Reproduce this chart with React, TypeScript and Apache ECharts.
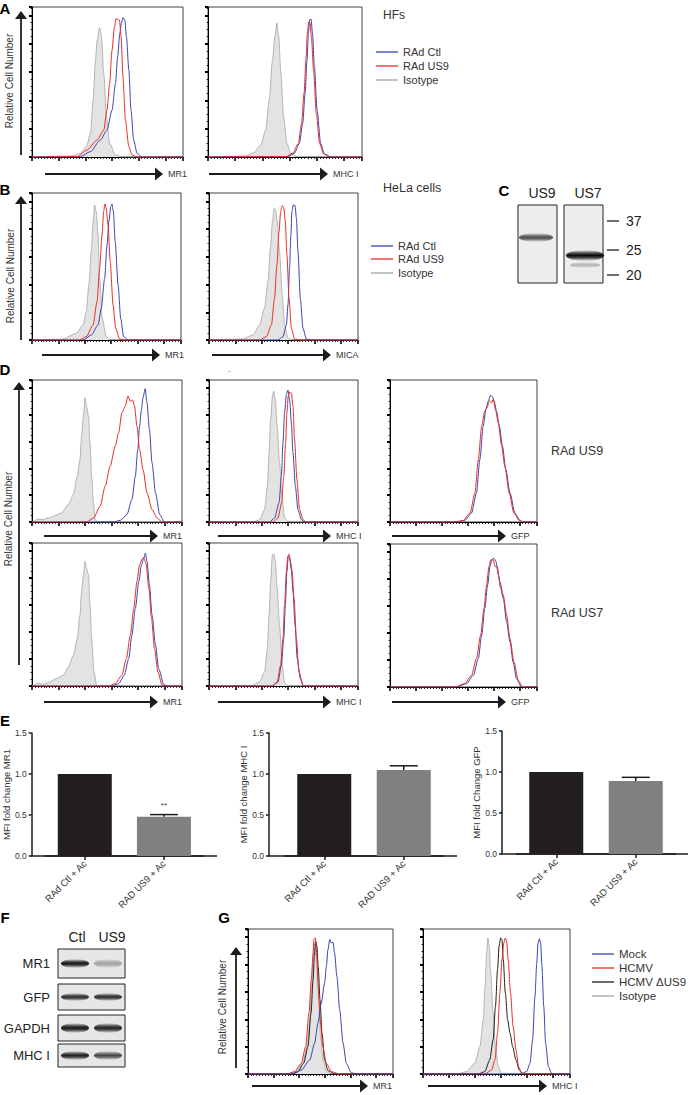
import { useEffect, useRef } from "react";
import * as echarts from "echarts";

// ---------------- DATA (x: log10 fluorescence decades, y: % of max cell count) ----------------
// A – HFs
const aMr1Iso = [[1.5,0.7],[1.81,2.6],[2.04,7.3],[2.19,16.7],[2.29,40.2],[2.38,68.5],[2.44,82.4],[2.53,91.5],[2.6,86.1],[2.69,59.1],[2.79,28.5],[2.91,9.6],[3.13,1.4],[3.38,0]];
const aMr1Ctl = [[1.81,0.2],[2.19,3.8],[2.56,12],[2.81,19],[3.0,33.2],[3.13,52],[3.21,70.8],[3.29,87.3],[3.35,94.4],[3.41,98.6],[3.48,96.7],[3.54,84.9],[3.63,61.4],[3.71,33.2],[3.81,12],[3.94,2.6],[4.13,0]];
const aMr1Us9 = [[1.69,0.2],[2.06,4.9],[2.44,12],[2.69,19],[2.81,33.2],[2.91,52],[3.0,75.5],[3.09,92],[3.15,97.9],[3.21,97.2],[3.28,96.7],[3.34,84.9],[3.41,56.7],[3.5,26.1],[3.63,7.3],[3.75,1.4],[3.94,0]];
const aMhcIso = [[1.38,0.7],[1.69,3.1],[1.94,8.5],[2.12,19],[2.25,40.2],[2.37,68.5],[2.46,84.9],[2.53,94.8],[2.6,84.9],[2.68,59.1],[2.78,28.5],[2.9,9.6],[3.05,2.1],[3.3,0.2]];
const aMhcCtl = [[2.93,0.2],[3.17,2.6],[3.36,9.6],[3.48,23.8],[3.57,45],[3.64,68.5],[3.69,87.3],[3.74,97.2],[3.79,97.2],[3.84,87.3],[3.91,63.8],[4.01,33.2],[4.14,9.6],[4.28,2.1],[4.53,0]];
const aMhcUs9 = [[2.86,0.2],[3.11,2.6],[3.32,9.6],[3.44,23.8],[3.53,45],[3.6,68.5],[3.65,87.3],[3.7,95.5],[3.75,94.8],[3.8,84.9],[3.88,61.4],[3.98,30.8],[4.1,9.6],[4.25,2.1],[4.47,0]];
// B – HeLa
const bMr1Iso = [[1.18,0.7],[1.68,4.8],[1.94,10.8],[2.06,20.4],[2.16,39.7],[2.25,63.7],[2.32,85.3],[2.38,97.4],[2.44,92.5],[2.51,75.7],[2.57,44.5],[2.67,15.6],[2.82,2.4],[3.01,0]];
const bMr1Us9 = [[1.81,0],[2.06,2.4],[2.32,10.8],[2.47,27.6],[2.57,51.7],[2.66,75.7],[2.72,92.5],[2.77,98.1],[2.82,94.9],[2.89,82.9],[2.97,56.5],[3.08,25.2],[3.18,8.4],[3.33,0.7],[3.52,0]];
const bMr1Ctl = [[1.94,0],[2.25,3.6],[2.51,10.8],[2.63,22.8],[2.76,44.5],[2.85,68.5],[2.92,85.3],[2.99,96.2],[3.04,98.1],[3.09,92.5],[3.16,70.9],[3.27,39.7],[3.37,15.6],[3.48,2.4],[3.65,0]];
const bMicaIso = [[1.29,0.7],[1.67,3.6],[1.92,10.8],[2.11,22.8],[2.24,42],[2.33,66.1],[2.41,85.3],[2.47,94.9],[2.53,93.7],[2.59,85.3],[2.68,63.7],[2.78,32.5],[2.87,10.8],[3.0,1.2],[3.19,0]];
const bMicaUs9 = [[1.92,0],[2.18,2.4],[2.37,10.8],[2.49,30],[2.58,54],[2.66,78],[2.72,92.5],[2.78,96.9],[2.84,95.4],[2.9,85.3],[2.96,61.3],[3.04,30],[3.13,8.4],[3.25,0.7],[3.44,0]];
const bMicaCtl = [[2.62,0],[2.81,2.4],[2.94,10.8],[3.0,25.2],[3.06,51.7],[3.11,75.7],[3.15,92.5],[3.2,97.4],[3.27,96.9],[3.32,87.7],[3.38,63.7],[3.47,30],[3.57,8.4],[3.7,0.7],[3.89,0]];
// D – RAd US9 row
const dUs9Mr1Iso = [[0.04,0.5],[0.23,2.2],[0.42,1.7],[0.61,3],[0.86,4.7],[1.11,6.7],[1.37,13],[1.56,20.5],[1.71,34.2],[1.81,46.6],[1.87,64.1],[1.94,79.1],[2.0,92.8],[2.06,86.5],[2.13,79.1],[2.19,59.1],[2.25,34.2],[2.32,14.2],[2.38,1.7],[2.51,0]];
const dUs9Mr1Us9 = [[2.06,0],[2.32,3],[2.57,11.7],[2.76,26.7],[2.95,41.6],[3.14,56.6],[3.27,66.6],[3.39,81.5],[3.52,86.5],[3.62,94],[3.71,90.2],[3.8,91],[3.87,86.5],[3.96,71.6],[4.06,54.1],[4.19,39.1],[4.34,21.7],[4.53,9.2],[4.72,3],[4.91,0]];
const dUs9Mr1Ctl = [[3.08,0],[3.33,1.2],[3.58,5.5],[3.77,16.7],[3.9,34.2],[3.99,54.1],[4.06,71.6],[4.13,84],[4.19,92.8],[4.27,99.5],[4.34,89],[4.43,69.1],[4.53,44.1],[4.66,21.7],[4.82,5.5],[5.0,0]];
const dUs9MhcIso = [[1.67,0],[1.92,1.7],[2.11,9.2],[2.22,26.7],[2.28,51.6],[2.34,76.6],[2.41,94],[2.46,97.8],[2.52,91.5],[2.59,71.6],[2.68,44.1],[2.78,16.7],[2.87,3],[3.0,0]];
const dUs9MhcCtl = [[2.3,0],[2.49,3],[2.66,14.2],[2.75,34.2],[2.81,59.1],[2.87,81.5],[2.94,95.3],[3.0,98.5],[3.06,91.5],[3.13,74.1],[3.19,51.6],[3.28,26.7],[3.38,9.2],[3.51,1.7],[3.63,0]];
const dUs9MhcUs9 = [[2.43,0],[2.62,3],[2.76,14.2],[2.84,34.2],[2.91,59.1],[2.96,81.5],[3.01,94],[3.06,96.8],[3.13,96.3],[3.19,86.5],[3.25,61.6],[3.34,31.7],[3.44,9.2],[3.57,1.7],[3.7,0]];
const dUs9GfpCtl = [[2.56,0],[2.88,1.2],[3.14,6.7],[3.33,21.7],[3.46,46.6],[3.59,71.6],[3.69,84],[3.78,90.2],[3.87,94.5],[3.95,93.5],[4.01,90.2],[4.1,82.9],[4.21,71.6],[4.33,56.6],[4.46,39.1],[4.62,21.7],[4.81,6.7],[5.0,1.2],[5.13,0]];
const dUs9GfpUs9 = [[2.5,0],[2.82,1.2],[3.08,6.7],[3.27,21.7],[3.4,46.6],[3.53,71.6],[3.65,82.9],[3.74,85.3],[3.82,90.2],[3.91,89],[3.97,91.5],[4.06,84],[4.17,74.1],[4.29,57.9],[4.42,41.6],[4.59,21.7],[4.77,6.7],[4.97,1.2],[5.1,0]];
// D – RAd US7 row
const dUs7Mr1Iso = [[0.04,0.5],[0.23,2.2],[0.42,1.2],[0.67,3],[0.92,5.5],[1.18,7.9],[1.37,14.1],[1.56,22.8],[1.71,35.2],[1.81,52.6],[1.87,70],[1.94,82.4],[2.0,92.3],[2.06,87.3],[2.13,82.4],[2.19,60],[2.25,35.2],[2.34,10.4],[2.44,0.5],[2.57,0]];
const dUs7Mr1Ctl = [[3.01,0],[3.27,1.7],[3.48,7.9],[3.65,20.3],[3.77,37.7],[3.9,57.6],[4.03,77.4],[4.13,89.8],[4.22,94.8],[4.28,98.5],[4.34,92.3],[4.43,74.9],[4.53,52.6],[4.66,30.3],[4.78,12.9],[4.97,1.2],[5.1,0]];
const dUs7Mr1Us7 = [[2.89,0],[3.14,1.7],[3.39,7.9],[3.56,20.3],[3.71,37.7],[3.84,57.6],[3.96,77.4],[4.06,89.8],[4.15,94],[4.22,95.3],[4.3,90.8],[4.41,72.5],[4.51,50.1],[4.62,27.8],[4.75,10.4],[4.91,0.7],[5.04,0]];
const dUs7MhcIso = [[1.61,0],[1.92,3],[2.11,10.4],[2.22,27.8],[2.28,52.6],[2.34,77.4],[2.41,97.3],[2.46,97.8],[2.52,93.5],[2.59,72.5],[2.68,45.2],[2.78,15.4],[2.87,2.5],[3.0,0]];
const dUs7MhcCtl = [[2.43,0],[2.62,3],[2.75,15.4],[2.84,35.2],[2.9,60],[2.96,84.9],[3.01,96],[3.06,94.8],[3.13,86.1],[3.19,70],[3.27,45.2],[3.35,20.3],[3.47,5.5],[3.59,0]];
const dUs7MhcUs7 = [[2.41,0],[2.59,3],[2.72,15.4],[2.81,35.2],[2.87,60],[2.94,84.9],[2.99,96],[3.04,97.8],[3.11,91.1],[3.16,84.9],[3.23,65],[3.32,35.2],[3.42,10.4],[3.57,0.5],[3.7,0]];
const dUs7GfpCtl = [[2.56,0],[2.95,2.5],[3.21,8.7],[3.4,21.1],[3.53,38.5],[3.65,58.3],[3.76,75.7],[3.85,89.3],[3.92,94.3],[4.0,95.5],[4.08,93],[4.17,83.1],[4.26,73.2],[4.36,65.8],[4.49,48.4],[4.62,33.5],[4.74,18.6],[4.87,6.2],[5.06,0]];
const dUs7GfpUs7 = [[2.5,0],[2.88,2.5],[3.14,8.7],[3.33,21.1],[3.49,38.5],[3.62,58.3],[3.72,75.7],[3.81,89.3],[3.88,94.3],[3.97,94.3],[4.05,89.3],[4.13,89.3],[4.23,78.2],[4.36,68.2],[4.49,53.3],[4.62,36],[4.77,18.6],[4.94,5],[5.1,0]];
// G – HCMV infection
const gMr1Iso = [[1.56,0],[1.89,2.2],[2.15,9],[2.3,20],[2.41,39.1],[2.48,63.6],[2.54,83.1],[2.59,95.2],[2.64,95.2],[2.69,78.2],[2.76,53.8],[2.83,27.4],[2.93,10.3],[3.06,1.7],[3.25,0]];
const gMr1Hcmv = [[1.5,0],[1.82,1.7],[2.08,7.8],[2.25,20],[2.38,44.5],[2.47,68.9],[2.54,88.5],[2.57,98.3],[2.63,99.5],[2.68,88.5],[2.74,64],[2.82,39.6],[2.92,20],[3.06,7.8],[3.25,1.7],[3.58,0]];
const gMr1Dus9 = [[1.69,0],[1.95,1.7],[2.17,7.8],[2.34,20],[2.46,44.5],[2.54,68.9],[2.59,86],[2.64,97.1],[2.69,93.4],[2.74,78.7],[2.81,54.3],[2.89,29.8],[2.99,10.3],[3.12,2.4],[3.38,0]];
const gMr1Mock = [[1.76,0],[2.08,2.9],[2.41,10.3],[2.6,22.5],[2.73,37.2],[2.86,51.8],[2.99,66.5],[3.06,78.7],[3.12,90.9],[3.19,98.3],[3.25,95.8],[3.32,96.3],[3.38,88.5],[3.47,71.4],[3.58,46.9],[3.71,22.5],[3.84,7.8],[4.03,1],[4.23,0]];
const gMhcIso = [[1.29,0],[1.67,1.7],[1.99,7.8],[2.19,20],[2.32,39.6],[2.39,64],[2.45,88.5],[2.5,99.5],[2.55,93.4],[2.61,73.8],[2.7,44.5],[2.79,20],[2.9,5.4],[3.02,0.5]];
const gMhcDus9 = [[2.12,0],[2.38,1.7],[2.57,10.3],[2.7,25],[2.79,49.4],[2.87,76.3],[2.93,93.4],[2.99,99.5],[3.04,98.3],[3.09,83.6],[3.17,59.2],[3.26,39.6],[3.35,29.8],[3.45,20],[3.58,10.3],[3.71,2.9],[3.84,0]];
const gMhcHcmv = [[2.38,0],[2.64,2.9],[2.77,10.3],[2.87,29.8],[2.96,59.2],[3.04,83.6],[3.11,95.8],[3.17,99.5],[3.22,97.1],[3.28,83.6],[3.37,59.2],[3.47,34.7],[3.58,17.6],[3.68,5.4],[3.8,0.5],[3.93,0]];
const gMhcMock = [[3.73,0],[3.99,1.7],[4.12,7.8],[4.22,25],[4.31,56.7],[4.38,81.2],[4.43,95.8],[4.48,98.8],[4.53,95.8],[4.58,78.7],[4.65,49.4],[4.72,22.5],[4.83,5.4],[4.95,0.5],[5.08,0]];

// E – MFI fold change bars
const eCats = ["RAd Ctl + Ac", "RAD US9 + Ac"];
const eMr1 = [1.0, 0.48];
const eMr1Err = [0, 0.025];
const eMr1Sig = ["", "**"];
const eMhc = [1.0, 1.05];
const eMhcErr = [0, 0.05];
const eGfp = [1.0, 0.89];
const eGfpErr = [0, 0.045];
const eNoSig = ["", ""];

// Legends / blots
const legendRAd = ["RAd Ctl", "RAd US9", "Isotype"];
const legendG = ["Mock", "HCMV", "HCMV \u0394US9", "Isotype"];
const cLanes = ["US9", "US7"];
const cMarkers = ["37", "25", "20"];
const fLanes = ["Ctl", "US9"];
const fRows = ["MR1", "GFP", "GAPDH", "MHC I"];
const fCtl = [0.95, 0.85, 0.95, 0.9];
const fUs9 = [0.3, 0.85, 0.9, 0.72];

// ---------------- STYLE ----------------
const FF = "'Liberation Sans', Arial, Helvetica, sans-serif";
const BLUE = "#3446ad";
const RED = "#ec2a24";
const ISO_LINE = "#a4a4a4";
const ISO_FILL = "#e3e3e3";
const BLK = "#1c1c1c";
const XMAX = 5.66;

type Curve = { data: number[][]; color: string; fill?: boolean };

export default function App() {
  const ref = useRef<HTMLDivElement>(null);
  useEffect(() => {
    document.body.style.margin = "0";
    const chart = echarts.init(ref.current!, null, { renderer: "svg" });
    const grid: any[] = [];
    const xAxis: any[] = [];
    const yAxis: any[] = [];
    const series: any[] = [];
    const g: any[] = [];

    const txt = (x: number, y: number, text: string, size: number, extra: any = {}, el: any = {}) => ({
      type: "text", x, y, silent: true, ...el,
      style: { text, fontSize: size, fontFamily: FF, fill: "#1b1b1b", align: "left", verticalAlign: "middle", ...extra },
    });
    const vText = (x: number, y: number, text: string, size: number) =>
      txt(x, y, text, size, { align: "center", fill: "#333" }, { rotation: Math.PI / 2 });

    const hist = (left: number, top: number, width: number, height: number, curves: Curve[]) => {
      const i = grid.length;
      grid.push({ left, top, width, height, show: true, borderColor: "#111", borderWidth: 0.8, backgroundColor: "rgba(0,0,0,0)" });
      xAxis.push({
        gridIndex: i, type: "value", min: 0, max: XMAX, interval: 1,
        axisLine: { show: true, onZero: false, lineStyle: { color: "#000", width: 1 } },
        axisTick: { show: true, length: 4, lineStyle: { color: "#000", width: 1.6 } },
        minorTick: { show: true, splitNumber: 9, length: 2, lineStyle: { color: "#000", width: 0.8 } },
        axisLabel: { show: false }, splitLine: { show: false }, minorSplitLine: { show: false },
      });
      yAxis.push({
        gridIndex: i, type: "value", min: 0, max: 106, interval: 20,
        axisLine: { show: true, onZero: false, lineStyle: { color: "#000", width: 1 } },
        axisTick: { show: true, length: 3, lineStyle: { color: "#000", width: 2 } },
        minorTick: { show: true, splitNumber: 4, length: 1.5, lineStyle: { color: "#000", width: 0.8 } },
        axisLabel: { show: false }, splitLine: { show: false }, minorSplitLine: { show: false },
      });
      curves.forEach((c, k) =>
        series.push({
          type: "line", xAxisIndex: i, yAxisIndex: i,
          data: [[0, 0], ...c.data, [XMAX, 0]],
          showSymbol: false, symbol: "none", smooth: 0.25, smoothMonotone: "x", silent: true,
          lineStyle: { color: c.color, width: c.fill ? 0.8 : 1 },
          areaStyle: c.fill ? { color: ISO_FILL, opacity: 1 } : undefined,
          z: 2 + k,
        })
      );
    };

    const iso = (d: number[][]): Curve => ({ data: d, color: ISO_LINE, fill: true });
    const blue = (d: number[][]): Curve => ({ data: d, color: BLUE });
    const red = (d: number[][]): Curve => ({ data: d, color: RED });
    const black = (d: number[][]): Curve => ({ data: d, color: BLK });

    // A
    hist(32, 7, 151, 150, [iso(aMr1Iso), blue(aMr1Ctl), red(aMr1Us9)]);
    hist(208, 7, 154, 150, [iso(aMhcIso), blue(aMhcCtl), red(aMhcUs9)]);
    // B
    hist(32, 193, 149, 147, [iso(bMr1Iso), blue(bMr1Ctl), red(bMr1Us9)]);
    hist(209, 193, 149, 147, [iso(bMicaIso), blue(bMicaCtl), red(bMicaUs9)]);
    // D
    hist(32, 380, 150, 142, [iso(dUs9Mr1Iso), blue(dUs9Mr1Ctl), red(dUs9Mr1Us9)]);
    hist(209, 380, 149, 142, [iso(dUs9MhcIso), blue(dUs9MhcCtl), red(dUs9MhcUs9)]);
    hist(390, 380, 147, 142, [blue(dUs9GfpCtl), red(dUs9GfpUs9)]);
    hist(32, 543, 150, 143, [iso(dUs7Mr1Iso), blue(dUs7Mr1Ctl), red(dUs7Mr1Us7)]);
    hist(209, 543, 149, 143, [iso(dUs7MhcIso), blue(dUs7MhcCtl), red(dUs7MhcUs7)]);
    hist(390, 544, 147, 143, [blue(dUs7GfpCtl), red(dUs7GfpUs7)]);
    // G
    hist(248, 929, 145, 145, [iso(gMr1Iso), black(gMr1Dus9), red(gMr1Hcmv), blue(gMr1Mock)]);
    hist(423, 929, 147, 145, [iso(gMhcIso), black(gMhcDus9), red(gMhcHcmv), blue(gMhcMock)]);

    // E bar charts
    const barColors = ["#231f20", "#808080"];
    const bars = (gl: number, top: number, height: number, axisX: number, lineEnd: number, name: string,
                  vals: number[], errs: number[], sigs: string[]) => {
      const i = grid.length;
      grid.push({ left: gl, top, width: 159, height, show: false });
      xAxis.push({
        gridIndex: i, type: "category", data: eCats,
        axisLine: { show: true, lineStyle: { color: BLK, width: 1.5 } },
        axisTick: { show: true, alignWithLabel: true, length: 4, lineStyle: { color: BLK, width: 1.5 } },
        axisLabel: { rotate: 45, fontSize: 9.5, color: "#333", fontFamily: FF, margin: 6, interval: 0 },
        splitLine: { show: false },
      });
      yAxis.push({
        gridIndex: i, type: "value", min: 0, max: 1.5, interval: 0.5, offset: gl - axisX,
        name, nameLocation: "middle", nameGap: 19,
        nameTextStyle: { fontSize: 9.5, color: "#333", fontFamily: FF },
        axisLine: { show: true, lineStyle: { color: BLK, width: 1.5 } },
        axisTick: { show: true, length: 3, lineStyle: { color: BLK, width: 1.5 } },
        axisLabel: { fontSize: 8.5, color: "#333", fontFamily: FF, margin: 5, formatter: (v: number) => v.toFixed(1) },
        splitLine: { show: false },
      });
      series.push({
        type: "bar", xAxisIndex: i, yAxisIndex: i, barWidth: 54, silent: true, z: 2,
        data: vals.map((v, k) => ({ value: v, itemStyle: { color: barColors[k] } })),
      });
      series.push({
        type: "custom", xAxisIndex: i, yAxisIndex: i, silent: true, z: 3,
        data: vals.map((v, k) => [k, v, errs[k]]),
        renderItem: (params: any, api: any) => {
          const k = api.value(0);
          const v = api.value(1);
          const e = api.value(2);
          const children: any[] = [];
          const p0 = api.coord([k, v]);
          const p1 = api.coord([k, v + e]);
          if (e > 0) {
            children.push({ type: "line", shape: { x1: p0[0], y1: p0[1], x2: p1[0], y2: p1[1] }, style: { stroke: BLK, lineWidth: 1.5 } });
            children.push({ type: "line", shape: { x1: p1[0] - 14, y1: p1[1], x2: p1[0] + 14, y2: p1[1] }, style: { stroke: BLK, lineWidth: 1.5 } });
          }
          const s = sigs[params.dataIndex];
          if (s) {
            children.push({ type: "text", x: p1[0], y: p1[1] - 9, style: { text: s, fontSize: 8, fontFamily: FF, fill: "#333", align: "center", verticalAlign: "middle" } });
          }
          return { type: "group", children };
        },
      });
      g.push({ type: "line", silent: true, shape: { x1: axisX, y1: top + height, x2: lineEnd, y2: top + height }, style: { stroke: BLK, lineWidth: 1.5 } });
    };
    bars(44.5, 733, 123, 31, 217, "MFI fold change MR1", eMr1, eMr1Err, eMr1Sig);
    bars(284.5, 733, 123, 269, 457, "MFI fold change MHC I", eMhc, eMhcErr, eNoSig);
    bars(516.5, 731, 123, 502, 688, "MFI fold Change GFP", eGfp, eGfpErr, eNoSig);

    // ---------- graphic decorations ----------
    const hArrow = (x1: number, tip: number, y: number, label: string) => {
      g.push({ type: "line", silent: true, shape: { x1, y1: y, x2: tip - 6, y2: y }, style: { stroke: BLK, lineWidth: 1.8 } });
      g.push({ type: "polygon", silent: true, shape: { points: [[tip - 8, y - 6.5], [tip, y], [tip - 8, y + 6.5]] }, style: { fill: BLK } });
      g.push(txt(tip + 5, y, label, 9, { fill: "#333" }));
    };
    const vArrow = (x: number, top: number, bottom: number) => {
      g.push({ type: "line", silent: true, shape: { x1: x, y1: top + 6, x2: x, y2: bottom }, style: { stroke: BLK, lineWidth: 1.8 } });
      g.push({ type: "polygon", silent: true, shape: { points: [[x - 6, top + 8], [x, top], [x + 6, top + 8]] }, style: { fill: BLK } });
    };
    const legend = (x: number, ys: number[], labels: string[], colors: string[], size: number) => {
      labels.forEach((l, k) => {
        g.push({ type: "line", silent: true, shape: { x1: x, y1: ys[k], x2: x + 22, y2: ys[k] }, style: { stroke: colors[k], lineWidth: 1.3 } });
        g.push(txt(x + 27, ys[k], l, size, { fill: "#333" }));
      });
    };
    const letter = (x: number, y: number, l: string) => g.push(txt(x, y, l, 15, { fontWeight: "bold", align: "center", fill: "#000" }));

    // panel letters
    letter(5, 8, "A");
    letter(5, 189, "B");
    letter(504, 190, "C");
    letter(5, 369, "D");
    letter(5, 720, "E");
    letter(5, 917, "F");
    letter(224, 917, "G");

    // A
    vArrow(21, 11, 155);
    g.push(vText(9, 81, "Relative Cell Number", 10));
    hArrow(45, 163, 174, "MR1");
    hArrow(209, 328, 174, "MHC I");
    g.push(txt(383, 15, "HFs", 12, { fill: "#333" }));
    legend(376, [52, 66, 80], legendRAd, [BLUE, RED, ISO_LINE], 11);
    // B
    vArrow(21, 196, 340);
    g.push(vText(10, 276, "Relative Cell Number", 10));
    hArrow(42, 160, 355, "MR1");
    hArrow(212, 331, 355, "MICA");
    g.push(txt(383, 188, "HeLa cells", 12.5, { fill: "#333" }));
    legend(371, [246, 259, 273], legendRAd, [BLUE, RED, ISO_LINE], 11);
    // D
    g.push(txt(228, 369, ".", 9, { fill: "#333" }));
    vArrow(19, 382, 665);
    g.push(vText(8, 519, "Relative Cell Number", 10));
    hArrow(44, 158, 536, "MR1");
    hArrow(218, 331, 536, "MHC I");
    hArrow(392, 506, 536, "GFP");
    hArrow(44, 158, 702, "MR1");
    hArrow(218, 331, 702, "MHC I");
    hArrow(392, 506, 702, "GFP");
    g.push(txt(551, 451, "RAd US9", 12.5, { fill: "#333" }));
    g.push(txt(551, 613, "RAd US7", 12.5, { fill: "#333" }));
    // G
    vArrow(236, 947, 1068);
    g.push(vText(222, 1007, "Relative Cell Number", 10));
    hArrow(252, 368, 1086, "MR1");
    hArrow(428, 547, 1086, "MHC I");
    legend(592, [954, 968, 982, 996], legendG, [BLUE, RED, BLK, ISO_LINE], 11.5);

    // ---------- blots ----------
    const bandFill = (a: number) =>
      new echarts.graphic.LinearGradient(0, 0, 0, 1, [
        { offset: 0, color: "rgba(12,12,12,0)" },
        { offset: 0.3, color: `rgba(12,12,12,${a * 0.75})` },
        { offset: 0.5, color: `rgba(12,12,12,${a})` },
        { offset: 0.7, color: `rgba(12,12,12,${a * 0.75})` },
        { offset: 1, color: "rgba(12,12,12,0)" },
      ]);
    const band = (cx: number, cy: number, rx: number, ry: number, a: number) =>
      g.push({ type: "ellipse", silent: true, shape: { cx, cy, rx, ry }, style: { fill: bandFill(a) } });
    const box = (x: number, y: number, w: number, h: number, fill: string) =>
      g.push({ type: "rect", silent: true, shape: { x, y, width: w, height: h }, style: { fill, stroke: "#222", lineWidth: 1 } });

    // C
    const cBoxX = [518, 564];
    cLanes.forEach((l, k) => {
      box(cBoxX[k], 205, 39, 78, "#ededed");
      g.push(txt(cBoxX[k] + 24, 193, l, 14, { align: "center", fill: "#222" }));
    });
    band(536, 237.5, 17, 4.5, 0.7);
    band(585, 255.5, 19, 5.5, 1);
    band(585, 265, 15, 3, 0.25);
    const cMarkY = [221, 250, 275];
    cMarkers.forEach((m, k) => {
      g.push({ type: "line", silent: true, shape: { x1: 607, y1: cMarkY[k], x2: 619, y2: cMarkY[k] }, style: { stroke: "#222", lineWidth: 1.3 } });
      g.push(txt(626, cMarkY[k], m, 14, { fill: "#222" }));
    });

    // F
    const fLaneX = [77, 112];
    fLanes.forEach((l, k) => g.push(txt(fLaneX[k], 937, l, 14, { align: "center", fill: "#222" })));
    const fRowY = [[949, 978], [984, 1010], [1015, 1041], [1044, 1067]];
    const fRy = [4.5, 4, 5, 4.5];
    fRows.forEach((r, k) => {
      const [y0, y1] = fRowY[k];
      const cy = (y0 + y1) / 2;
      box(58, y0, 67, y1 - y0, "#e6e6e6");
      g.push(txt(50, cy, r, 13, { align: "right", fill: "#222" }));
      band(75, cy, 14, fRy[k], fCtl[k]);
      band(108, cy, 14, fRy[k], fUs9[k]);
    });

    chart.setOption({
      animation: false,
      grid, xAxis, yAxis, series,
      graphic: { elements: g },
    });
    return () => chart.dispose();
  }, []);
  return <div ref={ref} style={{ width: 690, height: 1095 }} />;
}
